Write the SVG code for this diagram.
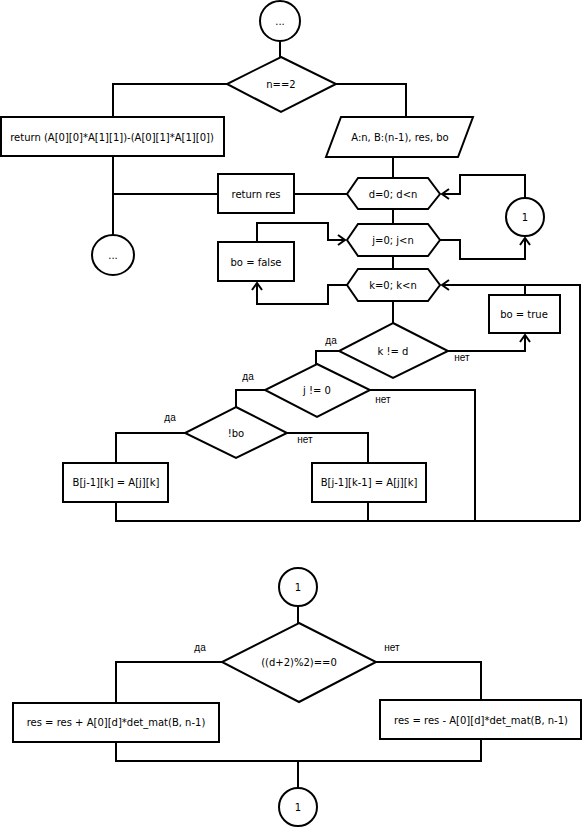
<svg xmlns="http://www.w3.org/2000/svg" width="582" height="827" viewBox="0 0 582 827">
<defs>
<style>
.s{fill:#fff;stroke:#000;stroke-width:2}
.c{fill:none;stroke:#000;stroke-width:2}
.t{font-family:"DejaVu Sans",sans-serif;font-size:10px;text-anchor:middle;dominant-baseline:central;fill:#000}
.l{font-family:"Liberation Sans",Arial,sans-serif;font-size:10px;text-anchor:middle;fill:#000}
</style>
<marker id="a" markerWidth="10" markerHeight="12" refX="8" refY="6" orient="auto" markerUnits="userSpaceOnUse">
<path d="M1,1 L8,6 L1,11" fill="none" stroke="#000" stroke-width="2"/>
</marker>
</defs>
<rect width="582" height="827" fill="#fff"/>
<g id="connectors" class="c">
<path d="M280,41 V57"/>
<path d="M227,84 H113 V117"/>
<path d="M336,84 H406 V117"/>
<path d="M393,157 V178"/>
<path d="M113,156 V235"/>
<path d="M347,194 H294"/>
<path d="M218,194 H113"/>
<path d="M393,209 V224"/>
<path d="M393,256 V269"/>
<path d="M393,301 V323"/>
<path d="M525,198 V175 H460 V194 H442" marker-end="url(#a)"/>
<path d="M440,240 H460 V259 H525 V238" marker-end="url(#a)"/>
<path d="M257,242 V223 H328 V240 H345" marker-end="url(#a)"/>
<path d="M347,285 H328 V304 H257 V283" marker-end="url(#a)"/>
<path d="M525,295 V285"/>
<path d="M580,521 V285 H442" marker-end="url(#a)"/>
<path d="M448,351 H525 V335" marker-end="url(#a)"/>
<path d="M339,351 H316 V364"/>
<path d="M370,390 H475 V521"/>
<path d="M265,390 H236 V407"/>
<path d="M185,433 H116 V463"/>
<path d="M287,433 H368 V463"/>
<path d="M116,502 V521 H580"/>
<path d="M368,502 V521"/>
<path d="M298,605 V623"/>
<path d="M222,662 H116 V703"/>
<path d="M376,662 H481 V700"/>
<path d="M116,742 V761 H481 V739"/>
<path d="M298,761 V788"/>
</g>
<g id="start"><circle class="s" cx="280" cy="21" r="20"/><text class="t" x="280" y="21">...</text></g>
<g id="cond_n2"><path class="s" d="M281,57 L336,84 L281,112 L227,84 Z"/><text class="t" x="281" y="84">n==2</text></g>
<g id="return_det2"><rect class="s" x="1" y="117" width="223" height="39"/><text class="t" x="112" y="137">return (A[0][0]*A[1][1])-(A[0][1]*A[1][0])</text></g>
<g id="decl"><path class="s" d="M341,117 H473 L458,157 H326 Z"/><text class="t" x="400" y="137">A:n, B:(n-1), res, bo</text></g>
<g id="loop_d"><path class="s" d="M347,194 L358,178 H428 L440,194 L428,209 H358 Z"/><text class="t" x="393" y="194">d=0; d&lt;n</text></g>
<g id="loop_j"><path class="s" d="M347,240 L358,224 H428 L440,240 L428,256 H358 Z"/><text class="t" x="393" y="240">j=0; j&lt;n</text></g>
<g id="loop_k"><path class="s" d="M347,285 L358,269 H428 L440,285 L428,301 H358 Z"/><text class="t" x="393" y="285">k=0; k&lt;n</text></g>
<g id="return_res"><rect class="s" x="218" y="174" width="76" height="39"/><text class="t" x="256" y="194">return res</text></g>
<g id="end"><ellipse class="s" cx="113" cy="255" rx="21" ry="20"/><text class="t" x="113" y="255">...</text></g>
<g id="conn1_right"><circle class="s" cx="525" cy="217" r="19"/><text class="t" x="525" y="217">1</text></g>
<g id="bo_false"><rect class="s" x="218" y="242" width="76" height="39"/><text class="t" x="256" y="262">bo = false</text></g>
<g id="bo_true"><rect class="s" x="489" y="295" width="71" height="38"/><text class="t" x="524" y="314">bo = true</text></g>
<g id="cond_kd"><path class="s" d="M393,323 L448,351 L393,378 L339,351 Z"/><text class="t" x="393" y="351">k != d</text></g>
<g id="cond_j0"><path class="s" d="M317,364 L370,390 L317,417 L265,390 Z"/><text class="t" x="317" y="390">j != 0</text></g>
<g id="cond_bo"><path class="s" d="M236,407 L287,433 L236,458 L185,433 Z"/><text class="t" x="236" y="433">!bo</text></g>
<g id="assign1"><rect class="s" x="63" y="463" width="105" height="39"/><text class="t" x="116" y="482">B[j-1][k] = A[j][k]</text></g>
<g id="assign2"><rect class="s" x="312" y="463" width="114" height="39"/><text class="t" x="369" y="482">B[j-1][k-1] = A[j][k]</text></g>
<g id="labels">
<text class="l" x="331" y="344">да</text>
<text class="l" x="462" y="361">нет</text>
<text class="l" x="248" y="380">да</text>
<text class="l" x="383" y="403">нет</text>
<text class="l" x="170" y="421">да</text>
<text class="l" x="305" y="443">нет</text>
<text class="l" x="200" y="651">да</text>
<text class="l" x="392" y="651">нет</text>
</g>
<g id="conn1_top"><circle class="s" cx="298" cy="587" r="19"/><text class="t" x="298" y="587">1</text></g>
<g id="cond_parity"><path class="s" d="M299,623 L376,662 L299,702 L222,662 Z"/><text class="t" x="299" y="662">((d+2)%2)==0</text></g>
<g id="res_plus"><rect class="s" x="13" y="703" width="206" height="39"/><text class="t" x="116" y="722">res = res + A[0][d]*det_mat(B, n-1)</text></g>
<g id="res_minus"><rect class="s" x="380" y="700" width="201" height="39"/><text class="t" x="481" y="720">res = res - A[0][d]*det_mat(B, n-1)</text></g>
<g id="conn1_bottom"><circle class="s" cx="298" cy="807" r="19"/><text class="t" x="298" y="807">1</text></g>
</svg>
